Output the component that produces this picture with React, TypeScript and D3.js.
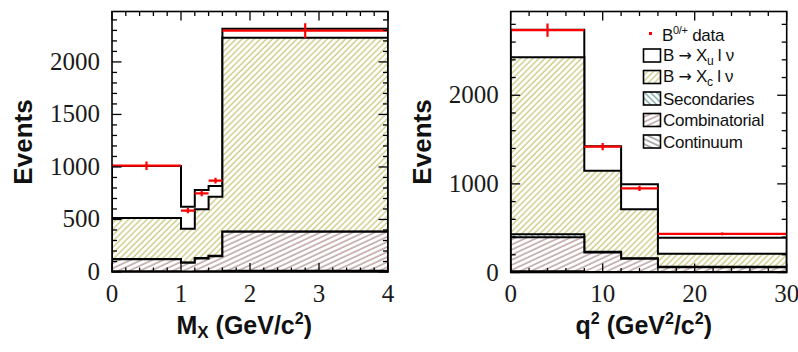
import React from "react";
import * as d3 from "d3";

// ---------- Left panel: M_X ----------
const mxEdges = [0, 1, 1.2, 1.4, 1.6, 4];
const mxContinuum = [8, 5, 8, 8, 12];
const mxCombinatorial = [113, 84, 120, 142, 372];
const mxSecondaries = [2, 2, 6, 4, 2];
const mxXc = [391, 321, 463, 563, 1845];
const mxXu = [496, 210, 184, 102, 84];
const mxData = [1012, 584, 749, 870, 2298];
const mxErr = [40, 25, 27, 28, 70];
const mxXTicks = [0, 1, 2, 3, 4];
const mxYTicks = [0, 500, 1000, 1500, 2000];

// ---------- Right panel: q^2 ----------
const q2Edges = [0, 8, 12, 16, 30];
const q2Continuum = [15, 5, 5, 5];
const q2Combinatorial = [382, 220, 150, 55];
const q2Secondaries = [34, 10, 5, 5];
const q2Xc = [1998, 914, 553, 147];
const q2Xu = [311, 276, 282, 181];
const q2Data = [2734, 1420, 950, 435];
const q2Err = [75, 40, 30, 15];
const q2XTicks = [0, 10, 20, 30];
const q2YTicks = [0, 1000, 2000];

const legendLabels = ["data", "Secondaries", "Combinatorial", "Continuum"];

type PanelProps = {
  id: string;
  x0: number; x1: number; y0: number; y1: number;
  xMax: number; yMax: number;
  edges: number[];
  layers: number[][]; // bottom to top
  data: number[]; err: number[];
  xTicks: number[]; yTicks: number[];
  xMinor: number; yMinor: number;
};

const patterns = ["pCont", "pComb", "pSec", "pXc", "pXu"];

function Panel(p: PanelProps) {
  const x = d3.scaleLinear().domain([0, p.xMax]).range([p.x0, p.x1]);
  const y = d3.scaleLinear().domain([0, p.yMax]).range([p.y1, p.y0]);
  const n = p.edges.length - 1;
  const cums: number[][] = [];
  let acc = new Array(n).fill(0);
  p.layers.forEach((l) => {
    acc = acc.map((a, i) => a + l[i]);
    cums.push(acc.slice());
  });
  const stepPath = (c: number[]) => {
    let s = `M${x(p.edges[0])},${y(0)}`;
    for (let i = 0; i < n; i++) {
      s += `L${x(p.edges[i])},${y(c[i])}L${x(p.edges[i + 1])},${y(c[i])}`;
    }
    s += `L${x(p.edges[n])},${y(0)}Z`;
    return s;
  };
  const xMinorTicks = d3.range(0, p.xMax + 1e-9, p.xMinor);
  const yMinorTicks = d3.range(0, p.yMax, p.yMinor);
  return (
    <g>
      <clipPath id={p.id + "clip"}>
        <rect x={p.x0} y={p.y0} width={p.x1 - p.x0} height={p.y1 - p.y0} />
      </clipPath>
      <g clipPath={`url(#${p.id}clip)`}>
        {cums.map((c, k) => k).reverse().map((k) => (
          <path key={k} d={stepPath(cums[k])} fill={`url(#${patterns[k]})`} stroke="#000" strokeWidth={2} />
        ))}
        {p.data.map((v, i) => {
          const cx = x((p.edges[i] + p.edges[i + 1]) / 2);
          return (
            <g key={i} stroke="#ff0000" strokeWidth={2.2}>
              <line x1={x(p.edges[i])} x2={x(p.edges[i + 1])} y1={y(v)} y2={y(v)} />
              <line x1={cx} x2={cx} y1={y(v - p.err[i])} y2={y(v + p.err[i])} />
            </g>
          );
        })}
      </g>
      <g stroke="#000" strokeWidth={1.3}>
        {xMinorTicks.map((t, i) => {
          const major = p.xTicks.some((m) => Math.abs(m - t) < 1e-6);
          const len = major ? 9 : 4.5;
          return (
            <g key={"x" + i}>
              <line x1={x(t)} x2={x(t)} y1={p.y1} y2={p.y1 - len} />
              <line x1={x(t)} x2={x(t)} y1={p.y0} y2={p.y0 + len} />
            </g>
          );
        })}
        {yMinorTicks.map((t, i) => {
          const major = p.yTicks.some((m) => Math.abs(m - t) < 1e-6);
          const len = major ? 9.5 : 5;
          return (
            <g key={"y" + i}>
              <line x1={p.x0} x2={p.x0 + len} y1={y(t)} y2={y(t)} />
              <line x1={p.x1} x2={p.x1 - len} y1={y(t)} y2={y(t)} />
            </g>
          );
        })}
      </g>
      <rect x={p.x0} y={p.y0} width={p.x1 - p.x0} height={p.y1 - p.y0} fill="none" stroke="#000" strokeWidth={1.6} />
      <g fontFamily="'Liberation Serif', serif" fontSize={25} fill="#1a1a1a">
        {p.xTicks.map((t) => (
          <text key={t} x={x(t)} y={302} textAnchor="middle">{t}</text>
        ))}
        {p.yTicks.map((t) => (
          <text key={t} x={p.x0 - 12} y={y(t) + 8} textAnchor="end">{t}</text>
        ))}
      </g>
      <text
        transform={`translate(${p.x0 - 80},142) rotate(-90)`}
        textAnchor="middle"
        fontFamily="'Liberation Sans', Arial, sans-serif"
        fontWeight="bold"
        fontSize={26}
        fill="#111"
      >
        Events
      </text>
    </g>
  );
}

export default function App() {
  const sans = "'Liberation Sans', Arial, sans-serif";
  const legendRows = [55.5, 77, 98.5, 120, 141.5];
  const legendFills = ["url(#pXu)", "url(#pXc)", "url(#pSec)", "url(#pComb)", "url(#pCont)"];
  return (
    <svg width={798} height={352} style={{ position: "absolute", left: 0, top: 0, background: "#fff" }}>
      <defs>
        <pattern id="pXu" width={4} height={4} patternUnits="userSpaceOnUse">
          <rect width={4} height={4} fill="#fff" />
        </pattern>
        <pattern id="pXc" width={4.3} height={8} patternUnits="userSpaceOnUse" patternTransform="rotate(45)">
          <rect width={4.3} height={8} fill="#fff" />
          <line x1={1} y1={0} x2={1} y2={8} stroke="#cfcf8e" strokeWidth={1.5} />
        </pattern>
        <pattern id="pSec" width={8} height={4.3} patternUnits="userSpaceOnUse" patternTransform="rotate(45)">
          <rect width={8} height={4.3} fill="#fff" />
          <line x1={0} y1={1} x2={8} y2={1} stroke="#7fa9a6" strokeWidth={1.4} />
        </pattern>
        <pattern id="pComb" width={8} height={4.6} patternUnits="userSpaceOnUse" patternTransform="rotate(-25)">
          <rect width={8} height={4.6} fill="#fff" />
          <line x1={0} y1={1} x2={8} y2={1} stroke="#b89c9c" strokeWidth={1.4} />
        </pattern>
        <pattern id="pCont" width={8} height={4.6} patternUnits="userSpaceOnUse" patternTransform="rotate(25)">
          <rect width={8} height={4.6} fill="#fff" />
          <line x1={0} y1={1} x2={8} y2={1} stroke="#8a8a8a" strokeWidth={1.3} />
        </pattern>
      </defs>
      <rect width={798} height={352} fill="#fff" />
      <Panel
        id="mx"
        x0={112} x1={388} y0={11.5} y1={272}
        xMax={4} yMax={2480}
        edges={mxEdges}
        layers={[mxContinuum, mxCombinatorial, mxSecondaries, mxXc, mxXu]}
        data={mxData} err={mxErr}
        xTicks={mxXTicks} yTicks={mxYTicks}
        xMinor={0.2} yMinor={100}
      />
      <Panel
        id="q2"
        x0={510.7} x1={786.7} y0={11.5} y1={272.5}
        xMax={30} yMax={2945}
        edges={q2Edges}
        layers={[q2Continuum, q2Combinatorial, q2Secondaries, q2Xc, q2Xu]}
        data={q2Data} err={q2Err}
        xTicks={q2XTicks} yTicks={q2YTicks}
        xMinor={2} yMinor={200}
      />
      <text x={312} y={334} textAnchor="end" fontFamily={sans} fontWeight="bold" fontSize={25} fill="#111">
        M<tspan fontSize={17} dy={4}>X</tspan>
        <tspan dy={-4}> (GeV/c</tspan>
        <tspan fontSize={16} dy={-10}>2</tspan>
        <tspan dy={10}>)</tspan>
      </text>
      <text x={712} y={334} textAnchor="end" fontFamily={sans} fontWeight="bold" fontSize={25} fill="#111">
        q<tspan fontSize={16} dy={-10}>2</tspan>
        <tspan dy={10}> (GeV</tspan>
        <tspan fontSize={16} dy={-10}>2</tspan>
        <tspan dy={10}>/c</tspan>
        <tspan fontSize={16} dy={-10}>2</tspan>
        <tspan dy={10}>)</tspan>
      </text>
      <g fontFamily={sans} fontSize={17} letterSpacing={-0.3} fill="#111">
        <rect x={649} y={32} width={3} height={3} fill="#ff0000" />
        <text x={662} y={41}>
          B<tspan fontSize={11} dy={-7}>0/+</tspan>
          <tspan dy={7}> {legendLabels[0]}</tspan>
        </text>
        {legendRows.map((cy, i) => (
          <rect key={i} x={643.5} y={cy - 6.5} width={17} height={13} fill={legendFills[i]} stroke="#000" strokeWidth={1.6} />
        ))}
        <text x={663} y={legendRows[0] + 5}>
          B <tspan fontFamily="'DejaVu Sans', sans-serif" fontSize={16}>→</tspan> X<tspan fontSize={12} dy={4}>u</tspan>
          <tspan dy={-4}> l ν</tspan>
        </text>
        <text x={663} y={legendRows[1] + 5}>
          B <tspan fontFamily="'DejaVu Sans', sans-serif" fontSize={16}>→</tspan> X<tspan fontSize={12} dy={4}>c</tspan>
          <tspan dy={-4}> l ν</tspan>
        </text>
        <text x={663} y={legendRows[2] + 6}>{legendLabels[1]}</text>
        <text x={663} y={legendRows[3] + 6}>{legendLabels[2]}</text>
        <text x={663} y={legendRows[4] + 6}>{legendLabels[3]}</text>
      </g>
    </svg>
  );
}
